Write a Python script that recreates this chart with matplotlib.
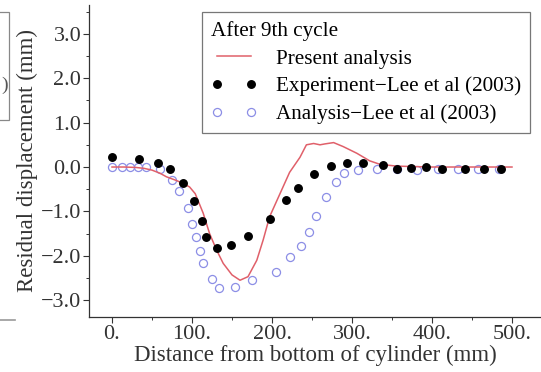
#!/usr/bin/env python3

import numpy as np
import matplotlib
matplotlib.use('Agg')
import matplotlib.pyplot as plt
from matplotlib.patches import Rectangle
from matplotlib.lines import Line2D
from matplotlib.ticker import MultipleLocator, FuncFormatter


# present analysis (red line)
present_x = [0, 15, 30, 40, 50, 60, 68, 80, 89, 97, 104, 114, 122, 131, 139,
             150, 160, 170, 181, 189, 197, 210, 222, 235, 243, 252, 260, 266,
             277, 289, 306, 322, 335, 356, 400, 450, 500]
present_y = [0.0, 0.0, -0.01, -0.03, -0.07, -0.14, -0.22, -0.3, -0.37, -0.45,
             -0.6, -1.04, -1.5, -1.88, -2.17, -2.43, -2.55, -2.47, -2.1,
             -1.64, -1.12, -0.6, -0.12, 0.22, 0.5, 0.53, 0.5, 0.52, 0.55,
             0.46, 0.31, 0.14, 0.06, 0.02, 0.0, 0.0, 0.0]

# experiment - Lee et al (2003)
exp_x = [0, 34, 58, 72, 89, 102, 112, 118, 131, 149, 170, 197, 217, 233,
         252, 274, 294, 314, 339, 356, 374, 392, 413, 441, 465, 486]
exp_y = [0.22, 0.18, 0.1, -0.05, -0.37, -0.77, -1.21, -1.58, -1.82, -1.76,
         -1.55, -1.16, -0.74, -0.48, -0.15, 0.02, 0.1, 0.08, 0.04, -0.05,
         -0.03, -0.01, -0.05, -0.05, -0.05, -0.05]

# analysis - Lee et al (2003)
ana_x = [0, 12, 22, 33, 42, 60, 75, 84, 95, 100, 105, 110, 114, 125, 134,
         154, 175, 205, 222, 236, 246, 255, 267, 280, 290, 308, 331, 356,
         381, 407, 432, 458, 484]
ana_y = [0.0, 0.0, 0.0, 0.0, 0.0, -0.05, -0.29, -0.55, -0.93, -1.29, -1.58,
         -1.89, -2.17, -2.53, -2.73, -2.71, -2.55, -2.37, -2.02, -1.79,
         -1.47, -1.1, -0.67, -0.33, -0.14, -0.07, -0.05, -0.05, -0.06,
         -0.05, -0.05, -0.05, -0.05]

x_ticks = [0, 100, 200, 300, 400, 500]
y_ticks = [-3.0, -2.0, -1.0, 0.0, 1.0, 2.0, 3.0]


def main():
	plt.rcParams['font.family'] = ['Liberation Serif', 'DejaVu Serif']
	W, H = 541, 372
	fig = plt.figure(figsize=(W / 100, H / 100), dpi=100)
	# axes box in pixels: left 89, right 541, top 5, bottom 317
	ax = fig.add_axes([89 / W, (H - 317) / H, (W - 89) / W, (317 - 5) / H])

	ax.plot(present_x, present_y, color='#e0606a', lw=1.1,
	        label='Present analysis', zorder=2)
	ax.plot(exp_x, exp_y, 'o', color='black', ms=5.4, ls='none',
	        label='Experiment\u2212Lee et al (2003)', zorder=3)
	ax.plot(ana_x, ana_y, 'o', mfc='none', mec='#8c8ee6', mew=0.9, ms=5.8,
	        ls='none', label='Analysis\u2212Lee et al (2003)', zorder=1)

	ax.set_xlim(-28.75, 536.25)
	ax.set_ylim(-3.378, 3.649)
	ax.spines['top'].set_visible(False)
	ax.spines['right'].set_visible(False)
	for s in ('left', 'bottom'):
		ax.spines[s].set_linewidth(0.9)
		ax.spines[s].set_color('#333333')

	ax.set_xticks(x_ticks)
	ax.set_yticks(y_ticks)
	ax.xaxis.set_minor_locator(MultipleLocator(50))
	ax.yaxis.set_minor_locator(MultipleLocator(0.5))
	ax.xaxis.set_major_formatter(FuncFormatter(lambda v, p: '%d.' % v))
	ax.yaxis.set_major_formatter(
		FuncFormatter(lambda v, p: ('%.1f' % v).replace('-', '\u2212')))
	ax.tick_params(which='major', direction='out', length=4, width=0.8,
	               labelsize=16, colors='#333333', pad=1.5)
	ax.tick_params(which='minor', direction='out', length=2, width=0.7,
	               colors='#333333')

	ax.set_xlabel('Distance from bottom of cylinder (mm)', fontsize=16.5,
	              color='#333333', labelpad=1)
	ax.set_ylabel('Residual displacement (mm)', fontsize=16.5,
	              color='#333333', labelpad=2)

	leg = ax.legend(loc='upper left', bbox_to_anchor=(202 / W, 1 - 12 / H),
	                bbox_transform=fig.transFigure, title='After 9th cycle',
	                alignment='left', numpoints=2, fontsize=15.2,
	                title_fontsize=15.2, fancybox=False, framealpha=1,
	                edgecolor='#777777', handlelength=2.2, handletextpad=0.9,
	                labelspacing=0.38, borderpad=0.42, borderaxespad=0)
	leg.get_frame().set_linewidth(0.9)

	# pieces of the neighbouring panel cut off at the left edge
	fig.patches.append(Rectangle((-0.02, (H - 120) / H), 9 / W + 0.02,
	                             108 / H, transform=fig.transFigure,
	                             fill=False, ec='#888888', lw=0.9))
	fig.text(1 / W, 1 - 85 / H, ')', fontsize=14, color='#555555',
	         va='center', ha='left')
	fig.lines.append(Line2D([0, 15 / W], [1 - 320 / H, 1 - 320 / H],
	                        transform=fig.transFigure, color='#999999',
	                        lw=1.2))

	fig.savefig('out.png', dpi=100)


if __name__ == '__main__':
	main()
